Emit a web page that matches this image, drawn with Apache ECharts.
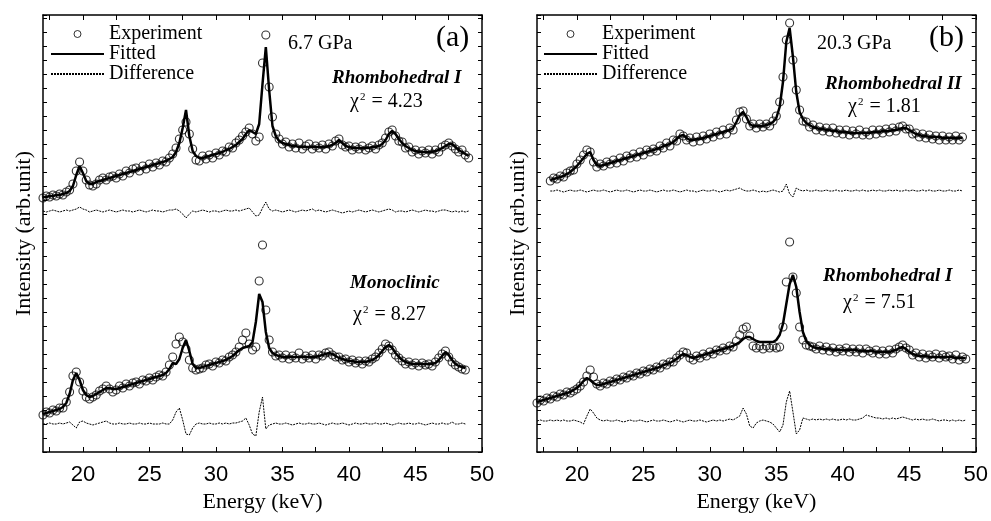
<!DOCTYPE html>
<html>
<head>
<meta charset="utf-8">
<title>Energy dispersive XRD fits</title>
<script src="https://cdn.jsdelivr.net/npm/echarts@6.0.0/dist/echarts.min.js"></script>
<style>
  html, body { margin: 0; padding: 0; background: #fff; }
  #chart { width: 991px; height: 521px; }
</style>
</head>
<body>
<div id="chart"></div>
<script>
// energy grid: every curve is sampled each 0.25 keV from its start value
const STEP = 0.25;
const startA1 = 17;
const startA2 = 17;
const startB1 = 18;
const startB2 = 17;

const xLabelValues = [20, 25, 30, 35, 40, 45, 50];
const xTickValues = [17.5, 20, 22.5, 25, 27.5, 30, 32.5, 35, 37.5, 40, 42.5, 45, 47.5, 50];

// (a) 6.7 GPa, Rhombohedral I (upper curve)
const expA1 = [
  254, 256, 255, 257, 256, 258, 257, 260,
  262, 268, 281, 290, 281, 272, 267, 266,
  268, 272, 274, 272, 275, 276, 274, 278,
  276, 281, 279, 283, 284, 281, 286, 283,
  288, 285, 289, 287, 291, 290, 294, 298,
  304, 313, 322, 330, 318, 303, 292, 291,
  296, 293, 297, 294, 299, 297, 301, 300,
  305, 304, 309, 312, 316, 320, 324, 318,
  311, 315, 389, 417, 365, 335, 318, 313,
  308, 310, 305, 308, 304, 309, 303, 306,
  308, 303, 306, 304, 307, 303, 308, 306,
  311, 313, 307, 305, 306, 302, 305, 303,
  306, 302, 304, 306, 303, 307, 309, 314,
  320, 322, 316, 311, 310, 304, 305, 300,
  302, 298, 301, 299, 302, 298, 302, 300,
  305, 307, 309, 306, 303, 300, 302, 297,
  294
];
const fitA1 = [
  255, 255, 256, 256, 257, 257, 258, 259,
  261, 266, 277, 286, 279, 271, 268, 268,
  270, 271, 272, 273, 274, 275, 276, 277,
  278, 279, 280, 281, 282, 283, 284, 285,
  286, 287, 288, 289, 290, 291, 293, 295,
  300, 309, 324, 342, 316, 301, 296, 294,
  294, 295, 296, 297, 298, 299, 300, 302,
  303, 305, 307, 310, 313, 318, 322, 320,
  318, 328, 368, 405, 362, 326, 316, 311,
  309, 308, 307, 306, 306, 305, 305, 305,
  305, 305, 305, 305, 305, 305, 306, 307,
  309, 312, 309, 306, 305, 304, 304, 304,
  304, 304, 304, 305, 305, 306, 308, 312,
  318, 321, 318, 313, 309, 306, 304, 302,
  301, 300, 300, 300, 300, 300, 301, 302,
  304, 306, 308, 308, 305, 302, 300, 298,
  296
];
const diffA1 = [
  241, 240, 241, 242, 241, 240, 241, 242,
  241, 242, 243, 245, 243, 242, 240, 241,
  242, 241, 240, 241, 242, 241, 240, 241,
  242, 241, 241, 240, 241, 242, 241, 240,
  241, 242, 241, 241, 240, 241, 242, 242,
  243, 241, 238, 234, 238, 241, 240, 241,
  242, 241, 240, 241, 241, 240, 241, 242,
  241, 241, 242, 241, 242, 243, 244, 240,
  236, 237, 244, 250, 243, 241, 242, 241,
  240, 241, 242, 241, 240, 241, 242, 241,
  242, 243, 241, 242, 241, 240, 241, 242,
  241, 240, 239, 240, 241, 240, 241, 242,
  241, 240, 241, 242, 241, 240, 241, 242,
  243, 242, 240, 241, 241, 240, 241, 242,
  241, 240, 241, 242, 241, 241, 240, 241,
  242, 242, 241, 240, 241, 240, 241, 240,
  241
];

// (a) Monoclinic (lower curve)
const expA2 = [
  37, 40, 39, 42, 41, 44, 44, 50,
  60, 76, 80, 70, 61, 55, 53, 55,
  57, 61, 63, 66, 63, 60, 62, 66,
  64, 68, 66, 69, 70, 68, 72, 71,
  74, 72, 75, 77, 76, 80, 87, 95,
  108, 115, 110, 103, 92, 84, 82, 83,
  84, 87, 88, 86, 90, 89, 92, 91,
  95, 97, 100, 105, 112, 119, 108, 102,
  105, 171, 207, 142, 112, 100, 96, 97,
  94, 97, 93, 96, 94, 99, 93, 96,
  94, 97, 93, 97, 96, 99, 100, 97,
  95, 95, 92, 93, 90, 92, 89, 91,
  88, 91, 90, 93, 95, 99, 103, 108,
  106, 102, 97, 94, 91, 88, 90, 87,
  89, 86, 89, 87, 88, 86, 90, 94,
  98, 101, 95, 90, 87, 85, 83, 82
];
const fitA2 = [
  38, 39, 40, 41, 42, 43, 45, 49,
  58, 72, 79, 72, 62, 57, 55, 56,
  58, 60, 62, 64, 64, 63, 63, 64,
  65, 66, 67, 68, 69, 70, 71, 72,
  73, 74, 75, 76, 77, 79, 83, 89,
  88, 93, 104, 112, 101, 88, 84, 84,
  85, 86, 87, 88, 89, 90, 91, 92,
  94, 96, 99, 102, 104, 105, 106, 110,
  130, 158, 150, 120, 104, 99, 97, 96,
  95, 95, 95, 95, 95, 95, 95, 95,
  95, 95, 95, 96, 97, 98, 99, 98,
  96, 94, 93, 92, 91, 91, 90, 90,
  90, 90, 91, 92, 94, 97, 101, 105,
  107, 104, 99, 95, 92, 90, 89, 88,
  88, 88, 88, 88, 88, 88, 89, 92,
  96, 100, 97, 92, 88, 86, 85, 84
];
const diffA2 = [
  28, 28, 29, 28, 28, 29, 28, 29,
  30, 27, 24, 30, 31, 29, 28, 27,
  28, 29, 30, 31, 29, 28, 28, 29,
  28, 28, 29, 28, 28, 29, 28, 28,
  29, 28, 28, 28, 29, 28, 28, 32,
  40, 44, 32, 18, 17, 24, 28, 29,
  28, 28, 29, 28, 28, 29, 28, 29,
  28, 29, 29, 30, 31, 34, 27, 18,
  16, 40, 55, 23, 27, 28, 29, 28,
  28, 29, 28, 27, 28, 29, 28, 28,
  29, 28, 28, 29, 28, 27, 28, 29,
  28, 28, 29, 28, 27, 28, 29, 28,
  28, 29, 28, 28, 29, 28, 28, 29,
  28, 27, 28, 29, 28, 28, 29, 28,
  28, 29, 28, 27, 28, 29, 28, 28,
  29, 28, 28, 30, 28, 28, 29, 28
];

// (b) 20.3 GPa, Rhombohedral II (upper curve)
const expB1 = [
  271, 274, 273, 276, 275, 279, 281, 282,
  288, 292, 297, 302, 300, 290, 285, 288,
  286, 290, 288, 292, 289, 294, 291, 296,
  294, 298, 295, 300, 297, 302, 300, 303,
  301, 306, 304, 309, 306, 312, 311, 318,
  316, 312, 314, 310, 315, 311, 316, 313,
  318, 315, 320, 317, 322, 318, 324, 322,
  332, 340, 341, 333, 326, 328, 324, 328,
  325, 328, 326, 331, 336, 350, 375, 412,
  429, 392, 362, 342, 331, 330, 325, 327,
  322, 325, 321, 324, 320, 324, 319, 322,
  318, 322, 317, 321, 318, 322, 317, 320,
  317, 322, 318, 322, 319, 323, 320, 324,
  321, 325, 326, 323, 323, 318, 319, 315,
  318, 314, 317, 313, 316, 312, 316, 312,
  315, 312, 316, 312, 315
];
const fitB1 = [
  272, 273, 274, 275, 276, 278, 280, 283,
  286, 290, 294, 298, 300, 292, 287, 286,
  287, 288, 289, 290, 291, 292, 293, 294,
  295, 296, 297, 298, 299, 300, 301, 302,
  303, 304, 306, 307, 308, 310, 313, 316,
  317, 314, 312, 312, 313, 313, 314, 315,
  316, 317, 318, 319, 320, 321, 322, 324,
  330, 337, 340, 335, 328, 326, 326, 326,
  326, 327, 328, 330, 334, 345, 370, 410,
  424, 395, 360, 340, 333, 329, 327, 325,
  324, 323, 323, 322, 322, 321, 321, 320,
  320, 320, 319, 319, 319, 319, 319, 319,
  319, 320, 320, 320, 321, 321, 321, 322,
  322, 323, 324, 324, 322, 320, 318, 317,
  316, 316, 315, 315, 315, 315, 314, 314,
  314, 314, 314, 314, 314
];
const diffB1 = [
  261, 261, 262, 261, 260, 261, 262, 261,
  261, 262, 261, 260, 261, 262, 261, 261,
  262, 261, 260, 261, 262, 261, 261, 262,
  261, 260, 261, 262, 261, 261, 262, 261,
  260, 261, 262, 261, 261, 262, 261, 260,
  261, 262, 261, 261, 260, 261, 262, 261,
  261, 262, 261, 260, 261, 262, 261, 262,
  263, 264, 262, 261, 261, 262, 261, 260,
  261, 260, 261, 262, 261, 260, 261, 268,
  258, 255, 264, 262, 261, 262, 261, 261,
  262, 261, 261, 262, 261, 261, 262, 261,
  261, 262, 261, 261, 262, 261, 262, 261,
  261, 262, 261, 262, 261, 261, 262, 261,
  262, 261, 261, 262, 261, 262, 261, 261,
  262, 261, 262, 261, 261, 262, 261, 261,
  262, 261, 261, 262, 261
];

// (b) Rhombohedral I (lower curve)
const expB2 = [
  49, 52, 51, 54, 53, 56, 55, 58,
  57, 60, 59, 61, 63, 66, 70, 76,
  82, 75, 68, 66, 69, 68, 71, 70,
  73, 72, 75, 74, 77, 76, 79, 78,
  81, 80, 83, 82, 85, 84, 88, 87,
  90, 90, 94, 97, 100, 99, 94, 92,
  96, 94, 98, 96, 100, 98, 102, 101,
  104, 102, 106, 105, 111, 117, 123, 125,
  116, 106, 104, 106, 103, 106, 104, 106,
  104, 105, 125, 170, 210, 175, 159, 125,
  112, 107, 106, 105, 103, 106, 102, 105,
  101, 104, 100, 103, 101, 104, 100, 103,
  100, 103, 99, 103, 101, 99, 102, 98,
  101, 98, 102, 99, 103, 105, 107, 104,
  102, 97, 99, 95, 98, 94, 97, 95,
  98, 94, 97, 95, 96, 93, 97, 92,
  95, 93
];
const fitB2 = [
  50, 51, 52, 53, 54, 55, 56, 57,
  58, 59, 60, 62, 64, 67, 71, 74,
  72, 69, 67, 67, 68, 69, 70, 71,
  72, 73, 74, 75, 76, 77, 78, 79,
  80, 81, 82, 83, 84, 85, 87, 88,
  89, 91, 93, 96, 98, 97, 95, 94,
  95, 96, 97, 98, 99, 100, 101, 102,
  103, 104, 105, 106, 108, 110, 113, 115,
  115, 113, 111, 110, 110, 110, 110, 110,
  112, 117, 128, 148, 168, 177, 165, 140,
  120, 111, 107, 105, 104, 104, 103, 103,
  103, 102, 102, 102, 102, 102, 102, 102,
  102, 101, 101, 101, 101, 101, 100, 100,
  100, 100, 100, 101, 102, 104, 105, 103,
  100, 98, 97, 96, 96, 96, 95, 95,
  95, 95, 95, 95, 95, 95, 94, 94,
  94, 94
];
const diffB2 = [
  31, 32, 31, 31, 32, 31, 32, 31,
  32, 31, 31, 32, 31, 30, 28, 36,
  43, 39, 34, 32, 31, 32, 31, 31,
  32, 31, 30, 31, 32, 31, 31, 32,
  31, 30, 31, 32, 31, 31, 32, 31,
  30, 31, 32, 31, 30, 31, 32, 31,
  31, 32, 31, 30, 31, 32, 31, 32,
  31, 32, 33, 32, 34, 36, 44, 38,
  26, 24, 29, 31, 32, 31, 30, 28,
  24, 20, 27, 50, 61, 40, 18, 22,
  34, 33, 32, 33, 32, 33, 32, 33,
  32, 33, 32, 32, 33, 32, 33, 32,
  32, 33, 34, 37, 36, 35, 34, 34,
  33, 34, 33, 34, 33, 34, 35, 34,
  33, 32, 33, 32, 33, 32, 32, 33,
  32, 31, 32, 32, 31, 32, 31, 32,
  31, 32
];

const SERIF = '"Liberation Serif", "Times New Roman", serif';
const SANS = '"Liberation Sans", Arial, sans-serif';

const toPairs = (start, vals) => vals.map((v, i) => [start + i * STEP, v]);

const expSeries = (name, start, vals, axis) => ({
  name, type: 'scatter', xAxisIndex: axis, yAxisIndex: axis,
  data: toPairs(start, vals), symbol: 'circle', symbolSize: 8,
  itemStyle: { color: 'rgba(0,0,0,0)', borderColor: '#000', borderWidth: 1.1 },
  z: 3,
});
const fitSeries = (name, start, vals, axis) => ({
  name, type: 'line', xAxisIndex: axis, yAxisIndex: axis,
  data: toPairs(start, vals), symbol: 'none',
  lineStyle: { color: '#000', width: 2.5 }, itemStyle: { color: '#000' },
  z: 4,
});
const diffSeries = (name, start, vals, axis) => ({
  name, type: 'line', xAxisIndex: axis, yAxisIndex: axis,
  data: toPairs(start, vals), symbol: 'none',
  lineStyle: { color: '#000', width: 1, type: [2, 1] }, itemStyle: { color: '#000' },
  z: 2,
});

const bottomAxis = (gridIndex) => ({
  gridIndex, type: 'value', min: 17, max: 50, position: 'bottom',
  axisLine: { show: true, onZero: false, lineStyle: { color: '#000', width: 1.5 } },
  axisTick: { show: true, inside: true, length: 5, customValues: xTickValues, lineStyle: { color: '#000', width: 1 } },
  axisLabel: { customValues: xLabelValues, color: '#000', fontFamily: SANS, fontSize: 22, margin: 12 },
  splitLine: { show: false },
  name: 'Energy (keV)', nameLocation: 'middle', nameGap: 35,
  nameTextStyle: { color: '#000', fontFamily: SERIF, fontSize: 22 },
});
const topAxis = (gridIndex) => ({
  gridIndex, type: 'value', min: 17, max: 50, position: 'top',
  axisLine: { show: true, onZero: false, lineStyle: { color: '#000', width: 1.5 } },
  axisTick: { show: true, inside: true, length: 5, customValues: xTickValues, lineStyle: { color: '#000', width: 1 } },
  axisLabel: { show: false },
  splitLine: { show: false },
});
const leftAxis = (gridIndex) => ({
  gridIndex, type: 'value', min: 0, max: 437, interval: 14, position: 'left',
  axisLine: { show: true, onZero: false, lineStyle: { color: '#000', width: 1.5 } },
  axisTick: { show: true, inside: true, length: 4, lineStyle: { color: '#000', width: 1 } },
  axisLabel: { show: false },
  splitLine: { show: false },
  name: 'Intensity (arb.unit)', nameLocation: 'middle', nameGap: 8,
  nameTextStyle: { color: '#000', fontFamily: SERIF, fontSize: 22 },
});
const rightAxis = (gridIndex) => ({
  gridIndex, type: 'value', min: 0, max: 437, interval: 14, position: 'right',
  axisLine: { show: true, onZero: false, lineStyle: { color: '#000', width: 1.5 } },
  axisTick: { show: true, inside: true, length: 4, lineStyle: { color: '#000', width: 1 } },
  axisLabel: { show: false },
  splitLine: { show: false },
});

// legend: hollow circle for data, plain lines (no marker dot) for the two curves
const noDot = { color: 'rgba(0,0,0,0)', borderColor: 'rgba(0,0,0,0)', borderWidth: 0, opacity: 0 };
const legendBox = (left) => ({
  left, top: 24, orient: 'vertical', padding: 0, itemGap: 0,
  itemWidth: 53, itemHeight: 7, selectedMode: false,
  textStyle: { color: '#000', fontFamily: SERIF, fontSize: 20, lineHeight: 18 },
  data: [
    { name: 'Experiment', itemStyle: { color: 'rgba(0,0,0,0)', borderColor: '#000', borderWidth: 1 } },
    { name: 'Fitted', itemStyle: noDot },
    { name: 'Difference', itemStyle: noDot },
  ],
});

// free text labels on the panels
const label = (x, y, text, font) => ({
  type: 'text', x, y,
  style: { text, font, fill: '#000', textAlign: 'left', textVerticalAlign: 'middle' },
});
const chiLabel = (x, y, value) => ({
  type: 'text', x, y,
  style: {
    text: 'χ{s|2} = ' + value, font: '20px ' + SERIF, fill: '#000',
    textAlign: 'left', textVerticalAlign: 'middle',
    rich: { s: { fontSize: 11, fontFamily: SERIF, verticalAlign: 'top', padding: [0, 1, 4, 1] } },
  },
});
const ITALIC = 'italic bold 19px ' + SERIF;
const PLAIN = '20px ' + SERIF;
const PANEL = '30px ' + SERIF;

const chart = echarts.init(document.getElementById('chart'), null, { renderer: 'canvas' });
chart.setOption({
  animation: false,
  backgroundColor: '#fff',
  textStyle: { fontFamily: SERIF },
  grid: [
    { left: 43, top: 15, width: 439, height: 437 },
    { left: 537, top: 15, width: 439, height: 437 },
  ],
  xAxis: [bottomAxis(0), topAxis(0), bottomAxis(1), topAxis(1)],
  yAxis: [leftAxis(0), rightAxis(0), leftAxis(1), rightAxis(1)],
  legend: [legendBox(50), legendBox(543)],
  series: [
    diffSeries('Difference', startA1, diffA1, 0),
    diffSeries('Difference', startA2, diffA2, 0),
    expSeries('Experiment', startA1, expA1, 0),
    expSeries('Experiment', startA2, expA2, 0),
    fitSeries('Fitted', startA1, fitA1, 0),
    fitSeries('Fitted', startA2, fitA2, 0),
    diffSeries('Difference', startB1, diffB1, 2),
    diffSeries('Difference', startB2, diffB2, 2),
    expSeries('Experiment', startB1, expB1, 2),
    expSeries('Experiment', startB2, expB2, 2),
    fitSeries('Fitted', startB1, fitB1, 2),
    fitSeries('Fitted', startB2, fitB2, 2),
  ],
  graphic: [
    label(288, 44, '6.7 GPa', PLAIN),
    label(436, 38, '(a)', PANEL),
    label(332, 78, 'Rhombohedral I', ITALIC),
    chiLabel(350, 102, '4.23'),
    label(350, 283, 'Monoclinic', ITALIC),
    chiLabel(353, 315, '8.27'),
    label(817, 44, '20.3 GPa', PLAIN),
    label(929, 38, '(b)', PANEL),
    label(825, 84, 'Rhombohedral II', ITALIC),
    chiLabel(848, 107, '1.81'),
    label(823, 276, 'Rhombohedral I', ITALIC),
    chiLabel(843, 303, '7.51'),
  ],
});
</script>
</body>
</html>
